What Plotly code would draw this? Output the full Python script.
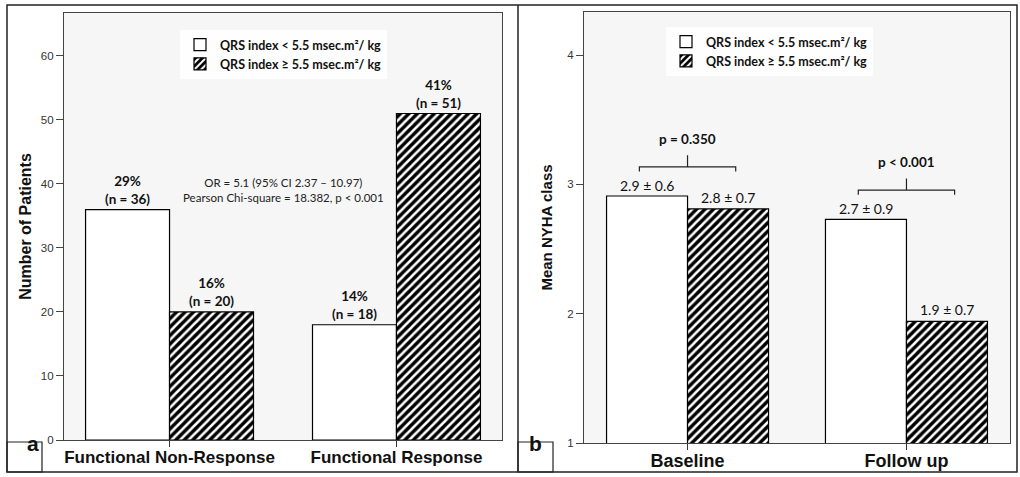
import plotly.graph_objects as go

W, H = 1020, 477

# ---------------- data ----------------
cats_a = ["Functional Non-Response", "Functional Response"]
low_a = [36, 18]          # QRS index < 5.5
high_a = [20, 51]         # QRS index >= 5.5
pct_low_a = [29, 14]
pct_high_a = [16, 41]

cats_b = ["Baseline", "Follow up"]
low_b = [2.91, 2.73]
high_b = [2.81, 1.94]
sd_low_b = [0.6, 0.9]
sd_high_b = [0.7, 0.7]
p_text_b = ["p = 0.350", "p < 0.001"]

name_low = "QRS index < 5.5 msec.m²/ kg"
name_high = "QRS index ≥ 5.5 msec.m²/ kg"
stats_text = "OR = 5.1 (95% CI 2.37 – 10.97)<br>Pearson Chi-square = 18.382, p < 0.001"


def px(x):
    return x / W


def py(y):
    return 1 - y / H


BW = 0.37
LBL = "Lato"
AX = "Liberation Sans, Arial"

white_marker = dict(color="white", line=dict(color="black", width=1.2))
hatch_marker = dict(color="black", line=dict(color="black", width=1.2),
                    pattern=dict(shape="/", bgcolor="black", fgcolor="white",
                                 size=6, solidity=0.42, fillmode="replace"))

fig = go.Figure()
fig.add_trace(go.Bar(x=cats_a, y=low_a, name=name_low, width=BW, offset=-BW,
                     marker=white_marker, xaxis="x", yaxis="y", legend="legend"))
fig.add_trace(go.Bar(x=cats_a, y=high_a, name=name_high, width=BW, offset=0,
                     marker=hatch_marker, xaxis="x", yaxis="y", legend="legend"))
fig.add_trace(go.Bar(x=cats_b, y=low_b, name=name_low, width=BW, offset=-BW,
                     marker=white_marker, xaxis="x2", yaxis="y2", legend="legend2"))
fig.add_trace(go.Bar(x=cats_b, y=high_b, name=name_high, width=BW, offset=0,
                     marker=hatch_marker, xaxis="x2", yaxis="y2", legend="legend2"))

ann = []
# panel a labels
for i in range(len(cats_a)):
    ann.append(dict(x=i - BW / 2, y=low_a[i], xref="x", yref="y", yanchor="bottom",
                    yshift=1, showarrow=False,
                    text=f"{pct_low_a[i]}%<br>(n = {low_a[i]})",
                    font=dict(family=LBL, size=13.5, color="#111", weight="bold")))
    ann.append(dict(x=i + BW / 2, y=high_a[i], xref="x", yref="y", yanchor="bottom",
                    yshift=1, showarrow=False,
                    text=f"{pct_high_a[i]}%<br>(n = {high_a[i]})",
                    font=dict(family=LBL, size=13.5, color="#111", weight="bold")))
ann.append(dict(x=0.5, y=39, xref="x", yref="y", showarrow=False, text=stats_text,
                font=dict(family=LBL, size=11.5, color="#222")))

# panel b labels
shapes = []
for i in range(len(cats_b)):
    ann.append(dict(x=i - BW / 2, y=low_b[i], xref="x2", yref="y2", yanchor="bottom",
                    yshift=0, showarrow=False,
                    text=f"{low_b[i]:.1f} ± {sd_low_b[i]}",
                    font=dict(family=LBL, size=14, color="#111")))
    ann.append(dict(x=i + BW / 2, y=high_b[i], xref="x2", yref="y2", yanchor="bottom",
                    yshift=1, showarrow=False,
                    text=f"{high_b[i]:.1f} ± {sd_high_b[i]}",
                    font=dict(family=LBL, size=14, color="#111")))
    top = max(low_b[i], high_b[i])
    yb = top + 0.225
    x0, x1 = i - 0.22, i + 0.22
    path = (f"M {x0},{yb - 0.035} L {x0},{yb} L {x1},{yb} L {x1},{yb - 0.035} "
            f"M {i},{yb} L {i},{yb + 0.09}")
    shapes.append(dict(type="path", path=path, xref="x2", yref="y2",
                       line=dict(color="#222", width=1.2)))
    ann.append(dict(x=i, y=yb + 0.215, xref="x2", yref="y2", showarrow=False,
                    text=p_text_b[i],
                    font=dict(family=LBL, size=13.5, color="#111", weight="bold")))

# panel letters
for label, x0 in (("a", 7), ("b", 518)):
    shapes.append(dict(type="rect", xref="paper", yref="paper",
                       x0=px(x0), x1=px(x0 + 35), y0=py(472), y1=py(442),
                       line=dict(color="#222", width=1.2), fillcolor="white"))
    ann.append(dict(x=px(x0 + 17.5), y=py(457), xref="paper", yref="paper",
                    showarrow=False, text=label,
                    font=dict(family=AX, size=21, color="#111", weight="bold")))

# outer frame and separator
shapes.append(dict(type="rect", xref="paper", yref="paper", x0=px(7), x1=px(1017),
                   y0=py(472), y1=py(5), line=dict(color="#222", width=1.5)))
shapes.append(dict(type="line", xref="paper", yref="paper", x0=px(518), x1=px(518),
                   y0=py(472), y1=py(5), line=dict(color="#222", width=1.5)))

xcommon = dict(type="category", showline=True, mirror=True, linecolor="#444",
               linewidth=1.2, ticks="outside", ticklen=6, tickcolor="#333",
               ticklabelstandoff=-5,
               showgrid=False, zeroline=False, automargin=False)
ycommon = dict(showline=True, mirror=True, linecolor="#444", linewidth=1.2,
               ticks="outside", ticklen=7, tickcolor="#444", showgrid=False,
               zeroline=False, automargin=False,
               tickfont=dict(family=AX, size=11.5, color="#333"))

fig.update_layout(
    width=W, height=H, margin=dict(l=0, r=0, t=0, b=0),
    paper_bgcolor="white", plot_bgcolor="#f6f6f6",
    barmode="group", showlegend=True,
    xaxis=dict(domain=[px(64), px(502)], range=[-0.465, 1.465], anchor="y",
               tickfont=dict(family=AX, size=17, color="#111", weight="bold"),
               **xcommon),
    yaxis=dict(domain=[py(440), py(13)], range=[0, 66.7], anchor="x",
               tickvals=[0, 10, 20, 30, 40, 50, 60],
               title=dict(text="Number of Patients", standoff=5,
                          font=dict(family=AX, size=16, color="#111", weight="bold")),
               **ycommon),
    xaxis2=dict(domain=[px(584), px(1010)], range=[-0.473, 1.473], anchor="y2",
                tickfont=dict(family=AX, size=18, color="#111", weight="bold"),
                **xcommon),
    yaxis2=dict(domain=[py(443), py(12)], range=[1, 4.333], anchor="x2",
                tickvals=[1, 2, 3, 4],
                title=dict(text="Mean NYHA class", standoff=10,
                           font=dict(family=AX, size=15, color="#111", weight="bold")),
                **ycommon),
    legend=dict(x=px(180), y=py(30), xanchor="left", yanchor="top",
                bgcolor="rgba(255,255,255,0.85)", borderwidth=0,
                font=dict(family=LBL, size=12.5, color="#111", weight="bold"),
                tracegroupgap=0),
    legend2=dict(x=px(666), y=py(27), xanchor="left", yanchor="top",
                 bgcolor="rgba(255,255,255,0.85)", borderwidth=0,
                 font=dict(family=LBL, size=12.5, color="#111", weight="bold"),
                 tracegroupgap=0),
    annotations=ann, shapes=shapes,
)

fig.write_html(
    "out.html",
    config={"displayModeBar": False},
    post_script="document.body.style.margin='0';document.body.style.overflow='hidden';",
)
